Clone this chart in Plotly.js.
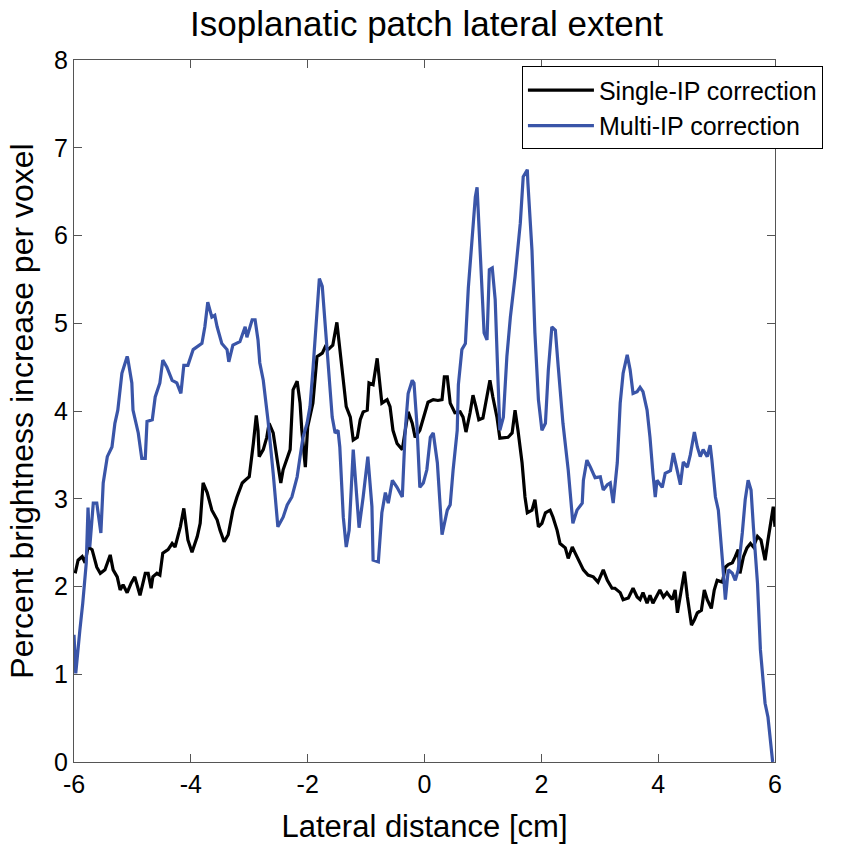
<!DOCTYPE html>
<html>
<head>
<meta charset="utf-8">
<script src="https://cdn.plot.ly/plotly-3.0.1.min.js"></script>
<style>html,body{margin:0;padding:0;background:#fff}#chart{width:853px;height:846px}</style>
</head>
<body>
<div id="chart"></div>
<script>
const singleX = [-5.98,-5.93,-5.86,-5.81,-5.76,-5.69,-5.61,-5.55,-5.47,-5.38,-5.33,-5.26,-5.21,-5.16,-5.09,-5.02,-4.96,-4.87,-4.78,-4.73,-4.68,-4.65,-4.58,-4.53,-4.48,-4.39,-4.32,-4.27,-4.18,-4.12,-4.05,-3.98,-3.89,-3.84,-3.79,-3.72,-3.64,-3.55,-3.50,-3.43,-3.36,-3.28,-3.21,-3.12,-3.07,-3.00,-2.93,-2.88,-2.85,-2.83,-2.76,-2.70,-2.66,-2.59,-2.52,-2.46,-2.42,-2.35,-2.30,-2.25,-2.18,-2.13,-2.10,-2.04,-2.00,-1.91,-1.84,-1.75,-1.70,-1.65,-1.57,-1.50,-1.46,-1.39,-1.34,-1.27,-1.22,-1.15,-1.10,-1.05,-0.98,-0.95,-0.88,-0.81,-0.78,-0.73,-0.64,-0.59,-0.54,-0.47,-0.38,-0.33,-0.28,-0.21,-0.16,-0.08,-0.02,0.06,0.15,0.23,0.30,0.34,0.39,0.44,0.52,0.61,0.66,0.71,0.78,0.83,0.88,0.93,1.00,1.07,1.12,1.17,1.24,1.29,1.38,1.43,1.50,1.55,1.60,1.67,1.72,1.76,1.84,1.89,1.95,2.01,2.07,2.15,2.20,2.27,2.32,2.41,2.46,2.53,2.58,2.66,2.72,2.80,2.89,2.97,3.06,3.13,3.21,3.26,3.35,3.40,3.49,3.57,3.64,3.69,3.74,3.81,3.86,3.91,3.98,4.03,4.09,4.15,4.24,4.29,4.33,4.38,4.45,4.50,4.57,4.62,4.67,4.74,4.79,4.84,4.91,4.96,5.01,5.10,5.15,5.20,5.27,5.32,5.37,5.40,5.46,5.52,5.58,5.63,5.70,5.76,5.83,5.88,5.97,6.00];
const singleY = [2.15,2.30,2.34,2.27,2.45,2.42,2.22,2.15,2.19,2.36,2.19,2.11,1.96,2.02,1.93,2.04,2.11,1.90,2.15,2.15,1.98,2.11,2.15,2.13,2.38,2.42,2.49,2.45,2.68,2.89,2.53,2.39,2.57,2.72,3.18,3.07,2.87,2.76,2.64,2.51,2.59,2.87,3.02,3.18,3.21,3.25,3.63,3.95,3.78,3.48,3.56,3.70,3.86,3.75,3.44,3.18,3.33,3.48,3.56,4.24,4.34,4.09,3.78,3.36,3.82,4.09,4.62,4.66,4.73,4.70,4.75,5.01,4.77,4.35,4.05,3.93,3.67,3.70,3.90,3.99,4.01,4.32,4.30,4.60,4.39,4.09,4.13,4.05,3.78,3.63,3.56,3.78,3.99,3.86,3.70,3.78,3.93,4.10,4.13,4.12,4.13,4.39,4.39,4.09,3.98,3.99,3.93,3.76,3.98,4.18,4.05,3.90,3.92,4.16,4.35,4.16,3.93,3.69,3.70,3.70,3.75,4.01,3.78,3.41,3.02,2.84,2.87,2.99,2.68,2.72,2.84,2.87,2.79,2.64,2.49,2.44,2.32,2.45,2.38,2.27,2.19,2.13,2.11,2.05,2.19,2.07,1.98,1.98,1.93,1.85,1.87,1.98,1.88,1.85,1.93,1.81,1.90,1.81,1.90,1.96,1.88,1.93,1.85,1.96,1.70,1.90,2.17,1.88,1.56,1.62,1.70,1.73,1.96,1.85,1.75,1.96,2.07,2.05,2.22,2.25,2.27,2.34,2.42,2.15,2.34,2.44,2.49,2.45,2.57,2.53,2.30,2.53,2.91,2.68];

const multiX = [-6.00,-5.97,-5.90,-5.85,-5.79,-5.76,-5.73,-5.69,-5.67,-5.61,-5.54,-5.50,-5.43,-5.35,-5.30,-5.25,-5.18,-5.09,-5.08,-5.01,-4.99,-4.90,-4.84,-4.78,-4.75,-4.66,-4.61,-4.53,-4.48,-4.41,-4.32,-4.24,-4.17,-4.12,-4.05,-3.96,-3.81,-3.76,-3.71,-3.64,-3.59,-3.55,-3.47,-3.38,-3.35,-3.28,-3.16,-3.07,-3.04,-2.95,-2.90,-2.85,-2.82,-2.76,-2.68,-2.59,-2.51,-2.42,-2.35,-2.27,-2.18,-2.13,-2.08,-2.01,-1.96,-1.91,-1.84,-1.80,-1.75,-1.70,-1.65,-1.58,-1.53,-1.48,-1.45,-1.39,-1.34,-1.29,-1.22,-1.17,-1.12,-1.05,-0.97,-0.90,-0.88,-0.79,-0.73,-0.67,-0.62,-0.55,-0.47,-0.38,-0.33,-0.28,-0.21,-0.18,-0.13,-0.08,-0.02,0.04,0.10,0.15,0.22,0.30,0.39,0.44,0.49,0.56,0.58,0.64,0.70,0.75,0.82,0.87,0.90,0.92,0.99,1.02,1.07,1.11,1.16,1.21,1.26,1.29,1.35,1.41,1.47,1.55,1.64,1.69,1.76,1.77,1.84,1.89,1.95,2.01,2.07,2.12,2.18,2.24,2.29,2.37,2.46,2.54,2.61,2.66,2.70,2.72,2.78,2.84,2.92,3.01,3.06,3.13,3.18,3.23,3.30,3.35,3.40,3.47,3.52,3.57,3.64,3.69,3.74,3.81,3.86,3.91,3.95,3.98,4.07,4.12,4.21,4.26,4.33,4.38,4.43,4.50,4.55,4.62,4.67,4.72,4.77,4.84,4.89,4.92,4.98,5.03,5.10,5.15,5.20,5.27,5.32,5.37,5.44,5.49,5.54,5.59,5.63,5.70,5.75,5.83,5.88,5.96];
const multiY = [1.45,1.01,1.50,1.81,2.27,2.90,2.45,2.84,2.95,2.95,2.61,3.18,3.48,3.59,3.86,4.01,4.43,4.62,4.60,4.32,4.01,3.75,3.46,3.46,3.88,3.90,4.16,4.32,4.58,4.50,4.35,4.32,4.20,4.52,4.52,4.70,4.77,4.96,5.24,5.07,5.09,4.96,4.77,4.70,4.56,4.75,4.79,4.96,4.84,5.04,5.04,4.81,4.55,4.35,3.90,3.29,2.68,2.79,2.93,3.02,3.25,3.48,3.70,3.86,4.05,4.47,5.12,5.51,5.42,5.00,4.47,3.93,3.75,3.78,3.59,2.79,2.45,2.64,3.56,3.10,2.67,3.02,3.48,2.91,2.30,2.28,2.84,3.07,2.95,3.21,3.13,3.02,3.78,4.20,4.35,4.32,3.85,3.13,3.18,3.33,3.70,3.75,3.41,2.59,2.87,2.93,3.33,3.78,4.30,4.70,4.77,5.40,5.95,6.44,6.55,6.29,5.42,4.89,4.81,5.61,5.63,5.27,4.32,3.78,3.93,4.62,5.07,5.53,6.14,6.67,6.75,6.60,5.83,4.89,4.13,3.78,3.86,4.47,4.96,4.92,4.50,3.86,3.33,2.72,2.87,2.91,2.95,3.21,3.44,3.36,3.24,3.25,3.10,3.16,3.18,2.95,3.41,4.09,4.43,4.64,4.47,4.20,4.22,4.27,4.22,4.01,3.70,3.29,3.02,3.21,3.13,3.29,3.32,3.52,3.33,3.16,3.42,3.36,3.50,3.76,3.59,3.48,3.56,3.48,3.61,3.44,3.02,2.87,2.30,1.85,2.19,2.15,2.07,2.19,2.61,2.99,3.21,3.10,2.68,2.04,1.28,0.67,0.51,0.00];

const xTicks = [-6,-4,-2,0,2,4,6];
const yTicks = [0,1,2,3,4,5,6,7,8];

const FONT = 'Liberation Sans, Arial, Helvetica, sans-serif';

const traces = [
  {x: singleX, y: singleY, type: 'scatter', mode: 'lines', name: 'Single-IP correction',
   line: {color: '#000000', width: 3.2}},
  {x: multiX, y: multiY, type: 'scatter', mode: 'lines', name: 'Multi-IP correction',
   line: {color: '#3a55a8', width: 3.2}}
];

const axisCommon = {
  showgrid: false, zeroline: false, showline: true, linecolor: '#555', linewidth: 1,
  mirror: 'ticks', ticks: 'inside', ticklen: 8, tickcolor: '#555', tickwidth: 1,
  tickfont: {family: FONT, size: 25, color: '#000'}
};

const layout = {
  width: 853, height: 846,
  margin: {l: 74, r: 78, t: 60, b: 84},
  paper_bgcolor: '#fff', plot_bgcolor: '#fff',
  title: {text: 'Isoplanatic patch lateral extent', font: {family: FONT, size: 35, color: '#000'},
          x: 0.5, xanchor: 'center', y: 0.972, yanchor: 'middle'},
  xaxis: Object.assign({}, axisCommon, {
    range: [-6, 6], tickmode: 'array', tickvals: xTicks, ticktext: xTicks.map(String),
    title: {text: 'Lateral distance [cm]', font: {family: FONT, size: 31, color: '#000'}, standoff: 18}
  }),
  yaxis: Object.assign({}, axisCommon, {
    range: [0, 8], tickmode: 'array', tickvals: yTicks, ticktext: yTicks.map(String),
    title: {text: 'Percent brightness increase per voxel', font: {family: FONT, size: 32, color: '#000'}, standoff: 10}
  }),
  showlegend: true,
  legend: {x: 0.639, y: 0.991, xanchor: 'left', yanchor: 'top', bgcolor: '#fff',
           bordercolor: '#000', borderwidth: 1, font: {family: FONT, size: 25, color: '#000'},
           tracegroupgap: 0, itemwidth: 66}
};

Plotly.newPlot('chart', traces, layout, {displayModeBar: false, staticPlot: true});
</script>
</body>
</html>
